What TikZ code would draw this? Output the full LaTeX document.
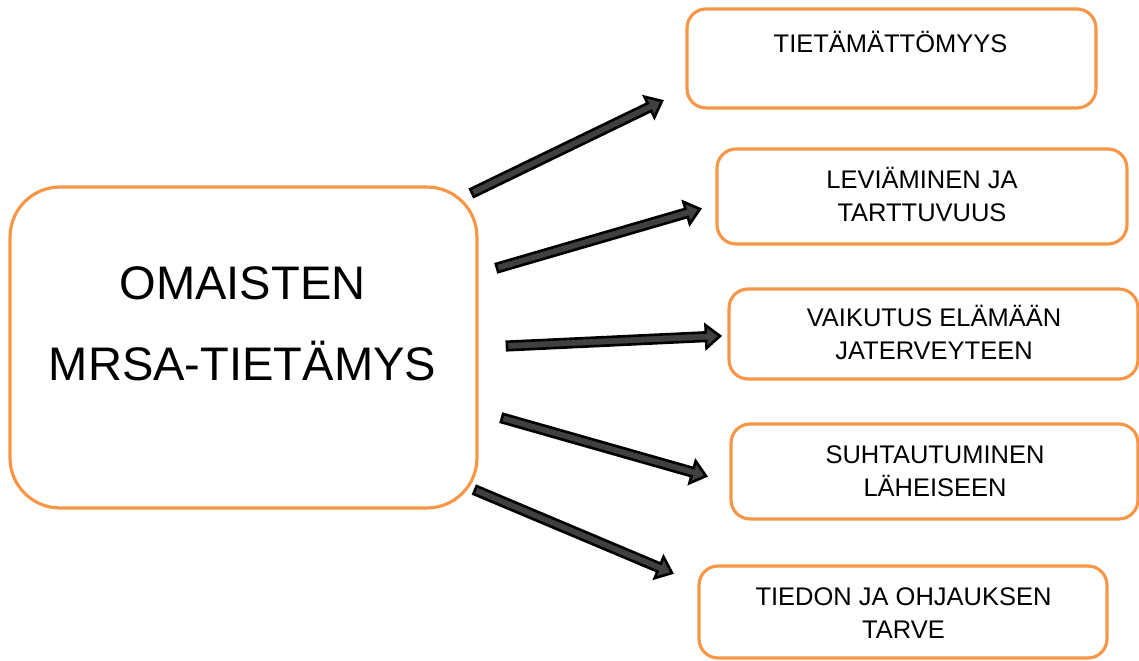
\documentclass[tikz,border=0pt]{standalone}
\usepackage{fontspec}
\setmainfont{Liberation Sans}
\usetikzlibrary{calc}
\definecolor{boxorange}{HTML}{F79646}
\definecolor{arrowfill}{HTML}{404040}

\begin{document}
\begin{tikzpicture}[
  x=0.02cm, y=-0.02cm,
  frame/.style={draw=boxorange, line width=1.8pt, fill=white},
  bigbox/.style={frame, rounded corners=1cm, minimum width=9.34cm, minimum height=6.42cm},
  smallbox/.style={frame, rounded corners=0.38cm},
  bigtext/.style={font=\fontsize{26.8pt}{46pt}\selectfont, align=center, anchor=south, inner sep=0pt},
  smalltext/.style={font=\fontsize{14.5pt}{18.7pt}\selectfont, align=center, anchor=south, inner sep=0pt},
  blockarrow/.style={draw=black, fill=arrowfill, line width=1.5pt, line join=miter}
]
  \useasboundingbox (0,0) rectangle (1139,661);

  %% ---- keskuslaatikko ------------------------------------------------
  \node[bigbox] (main) at (243.5,347.5) {};
  \node[bigtext] (lmain) at (242.5,381) {OMAISTEN\\MRSA-TIETÄMYS};

  %% ---- oikean reunan laatikot ----------------------------------------
  \node[smallbox, minimum width=8.18cm, minimum height=1.98cm] (b1) at (891.5,58.5) {};
  \node[smalltext] (l1) at (890.5,53) {TIETÄMÄTTÖMYYS};

  \node[smallbox, minimum width=8.2cm, minimum height=1.9cm] (b2) at (922,196.5) {};
  \node[smalltext] (l2) at (922,222) {LEVIÄMINEN JA\\TARTTUVUUS};

  \node[smallbox, minimum width=8.18cm, minimum height=1.8cm] (b3) at (933.5,334) {};
  \node[smalltext] (l3) at (934,360) {VAIKUTUS ELÄMÄÄN\\JATERVEYTEEN};

  \node[smallbox, minimum width=8.14cm, minimum height=1.9cm] (b4) at (934.5,471.5) {};
  \node[smalltext] (l4) at (935,497) {SUHTAUTUMINEN\\LÄHEISEEN};

  \node[smallbox, minimum width=8.16cm, minimum height=1.84cm] (b5) at (903,612) {};
  \node[smalltext] (l5) at (903.5,639) {TIEDON JA OHJAUKSEN\\TARVE};

  %% ---- nuolet: häntä t, kärki h ---------------------------------------
  \coordinate (t1) at (472,193);  \coordinate (h1) at (662,101);
  \coordinate (t2) at (497,268);  \coordinate (h2) at (700,209);
  \coordinate (t3) at (507,346);  \coordinate (h3) at (720,336);
  \coordinate (t4) at (502,418);  \coordinate (h4) at (706,476);
  \coordinate (t5) at (475,490);  \coordinate (h5) at (672,573);

  \foreach \i in {1,...,5} {
    \coordinate (n) at ($(h\i)!0.28cm!(t\i)$);
    \draw[blockarrow] ($(t\i)!0.085cm!90:(h\i)$) -- ($(n)!0.085cm!90:(h\i)$)
      -- ($(n)!0.23cm!90:(h\i)$) -- (h\i) -- ($(n)!0.23cm!-90:(h\i)$)
      -- ($(n)!0.085cm!-90:(h\i)$) -- ($(t\i)!0.085cm!-90:(h\i)$) -- cycle;
  }

\end{tikzpicture}
\end{document}
